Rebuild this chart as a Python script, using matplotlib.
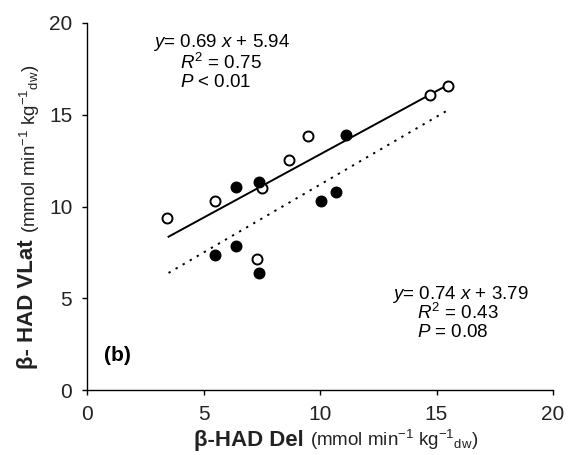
import matplotlib
matplotlib.use("Agg")
import matplotlib.pyplot as plt
import numpy as np
from matplotlib.offsetbox import TextArea, HPacker, AnchoredOffsetbox

plt.rcParams['font.family'] = ['Liberation Sans', 'DejaVu Sans']
plt.rcParams['mathtext.fontset'] = 'custom'
plt.rcParams['mathtext.rm'] = 'Liberation Sans'
plt.rcParams['mathtext.it'] = 'Liberation Sans:italic'
plt.rcParams['mathtext.bf'] = 'Liberation Sans:bold'

# Data
open_x = [3.45, 5.5, 7.5, 8.65, 9.5, 7.3, 14.7, 15.5]
open_y = [9.4, 10.3, 11.0, 12.55, 13.85, 7.15, 16.1, 16.55]
filled_x = [6.4, 7.4, 11.1, 10.05, 10.7, 5.5, 6.4, 7.4]
filled_y = [11.05, 11.35, 13.9, 10.3, 10.8, 7.35, 7.85, 6.35]

fit_solid = (0.69, 5.94)
fit_dotted = (0.74, 3.79)
solid_range = [3.5, 15.3]
dotted_range = [3.5, 15.5]

xticks = [0, 5, 10, 15, 20]
yticks = [0, 5, 10, 15, 20]

W, H = 568, 455
fig = plt.figure(figsize=(W / 100, H / 100), dpi=100)
ax = fig.add_axes([87 / W, 1 - 390 / H, (553 - 87) / W, (390 - 23) / H])

xs = np.array(solid_range)
ax.plot(xs, fit_solid[0] * xs + fit_solid[1], color='black', lw=1.4, zorder=2)
xd = np.array(dotted_range)
ax.plot(xd, fit_dotted[0] * xd + fit_dotted[1], color='black', lw=1.4,
        linestyle=(0, (1.2, 3.0)), zorder=2)

ax.plot(open_x, open_y, 'o', ms=7.2, mfc='white', mec='black', mew=1.4, zorder=3)
ax.plot(filled_x, filled_y, 'o', ms=7.6, mfc='black', mec='black', mew=1.0, zorder=3)

ax.set_xlim(0, 20)
ax.set_ylim(0, 20)
ax.set_xticks(xticks)
ax.set_yticks(yticks)
ax.spines['top'].set_visible(False)
ax.spines['right'].set_visible(False)
for s in ['left', 'bottom']:
    ax.spines[s].set_linewidth(1.0)
ax.tick_params(direction='out', length=3.6, width=1.0, labelsize=15, pad=7,
               labelcolor='#222222')

# Annotations
fs = 13.5
ax.text(2.83, 18.95, r'$y$= 0.69 $x$ + 5.94', fontsize=fs, ha='left', va='center')
ax.text(4.0, 17.83, r'$R^2$ = 0.75', fontsize=fs, ha='left', va='center')
ax.text(4.0, 16.75, r'$P$ < 0.01', fontsize=fs, ha='left', va='center')

ax.text(13.09, 5.22, r'$y$= 0.74 $x$ + 3.79', fontsize=fs, ha='left', va='center')
ax.text(14.16, 4.2, r'$R^2$ = 0.43', fontsize=fs, ha='left', va='center')
ax.text(14.16, 3.12, r'$P$ = 0.08', fontsize=fs, ha='left', va='center')

ax.text(0.75, 1.9, '(b)', fontsize=15, fontweight='bold', ha='left', va='center')

unit_str = r'(mmol min$^{-1}$ kg$^{-1}{}_{\mathrm{dw}}$)'

# X label
xl_main = TextArea('β-HAD Del ', textprops=dict(fontsize=16, fontweight='bold', color='#222222'))
xl_unit = TextArea(unit_str, textprops=dict(fontsize=13.5, color='#222222'))
xbox = HPacker(children=[xl_main, xl_unit], align='baseline', pad=0, sep=0)
ab = AnchoredOffsetbox(loc='center', child=xbox, frameon=False,
                       bbox_to_anchor=(336 / W, 1 - 440 / H), bbox_transform=fig.transFigure,
                       pad=0, borderpad=0)
fig.add_artist(ab)

# Y label (rotated): two texts
fig.canvas.draw()
renderer = fig.canvas.get_renderer()
t1 = fig.text(0, 0, 'β- HAD VLat ', rotation=90, fontsize=16, fontweight='bold',
              color='#222222', ha='center', va='bottom')
t2 = fig.text(0, 0, unit_str, rotation=90, fontsize=13.5,
              color='#222222', ha='center', va='bottom')
fig.canvas.draw()
bb = t1.get_window_extent(renderer)
bb2 = t2.get_window_extent(renderer)
total = bb.height + bb2.height
ycenter = H - 217
ystart = ycenter - total / 2
xc = 28
t1.set_position((xc / W, ystart / H))
t2.set_position(((xc + 1.5) / W, (ystart + bb.height) / H))

fig.savefig('out.png', dpi=100)
